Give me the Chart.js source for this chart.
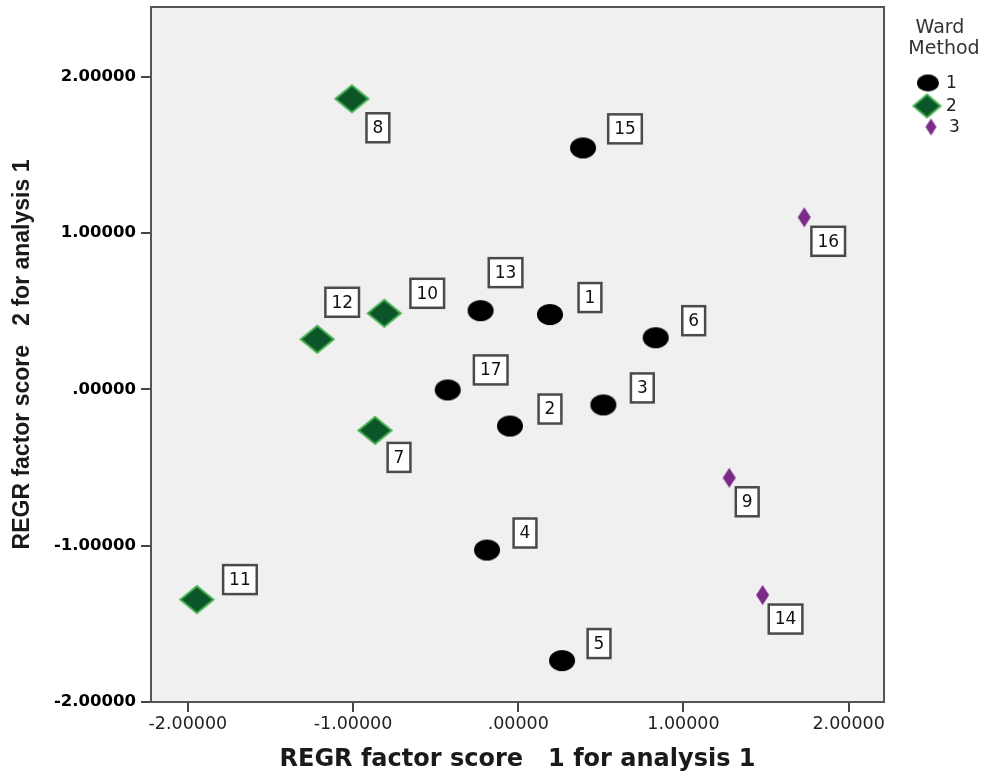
<!DOCTYPE html>
<html>
<head>
<meta charset="utf-8">
<title>Ward Method clusters</title>
<script src="https://cdn.jsdelivr.net/npm/chart.js@4/dist/chart.umd.min.js"></script>
<style>
  html, body { margin: 0; padding: 0; background: #fff; }
  #wrap { position: relative; width: 981px; height: 776px; }
</style>
</head>
<body>
<div id="wrap"><canvas id="scatter"></canvas></div>
<script>
// case numbers and factor scores per Ward cluster
const ward1Cases = [1, 2, 3, 4, 5, 6, 13, 15, 17];
const ward1X = [0.192, -0.050, 0.515, -0.189, 0.265, 0.832, -0.228, 0.392, -0.427];
const ward1Y = [0.478, -0.235, -0.100, -1.028, -1.735, 0.330, 0.503, 1.544, -0.004];

const ward2Cases = [7, 8, 10, 11, 12];
const ward2X = [-0.867, -1.007, -0.811, -1.945, -1.217];
const ward2Y = [-0.263, 1.858, 0.486, -1.345, 0.320];

const ward3Cases = [9, 14, 16];
const ward3X = [1.277, 1.479, 1.731];
const ward3Y = [-0.566, -1.316, 1.100];

const xTicks = [-2, -1, 0, 1, 2];
const yTicks = [-2, -1, 0, 1, 2];

const legendTitle = ['Ward', 'Method'];
const legendLabels = ['1', '2', '3'];

// where each case label box sits relative to its marker (px)
const LABEL_OFFSETS = {
  1: [40, -17], 2: [40, -17], 3: [39, -17], 4: [38, -17], 5: [37, -17],
  6: [38, -17], 7: [24, 27], 8: [26, 29], 9: [18, 24], 10: [43, -20],
  11: [43, -20], 12: [25, -37], 13: [25, -38], 14: [23, 24], 15: [42, -19],
  16: [24, 24], 17: [43, -20],
};

const FONT = "'DejaVu Sans', 'Liberation Sans', Arial, sans-serif";

function makeMarker(kind, w, h) {
  const pad = 3;
  const c = document.createElement('canvas');
  c.width = w + pad * 2;
  c.height = h + pad * 2;
  const ctx = c.getContext('2d');
  const cx = c.width / 2, cy = c.height / 2;
  ctx.beginPath();
  if (kind === 'ellipse') {
    ctx.ellipse(cx, cy, w / 2, h / 2, 0, 0, Math.PI * 2);
  } else {
    ctx.moveTo(cx, cy - h / 2);
    ctx.lineTo(cx + w / 2, cy);
    ctx.lineTo(cx, cy + h / 2);
    ctx.lineTo(cx - w / 2, cy);
    ctx.closePath();
  }
  return { c, ctx };
}

function blackDot(w, h) {
  const m = makeMarker('ellipse', w, h);
  m.ctx.fillStyle = '#000';
  m.ctx.fill();
  return m.c;
}

function greenDiamond(w, h) {
  const m = makeMarker('diamond', w, h);
  m.ctx.fillStyle = '#0c5529';
  m.ctx.fill();
  m.ctx.lineWidth = 2;
  m.ctx.strokeStyle = '#45b04f';
  m.ctx.stroke();
  return m.c;
}

function purpleDiamond(w, h) {
  const m = makeMarker('diamond', w, h);
  m.ctx.fillStyle = '#7b2a88';
  m.ctx.fill();
  return m.c;
}

const MARKERS = [blackDot(26, 21), greenDiamond(33, 27), purpleDiamond(13, 20)];
const LEGEND_MARKERS = [blackDot(22, 17), greenDiamond(27, 23), purpleDiamond(11, 17)];

function toPoints(cases, xs, ys) {
  return cases.map((id, i) => ({ x: xs[i], y: ys[i], id }));
}

function fmtTick(v) {
  return v.toFixed(5).replace(/^(-?)0\./, '$1.');
}

const frame = {
  id: 'frame',
  beforeDatasetsDraw(chart) {
    const { ctx, chartArea: a } = chart;
    ctx.save();
    ctx.fillStyle = '#f0f0f0';
    ctx.fillRect(a.left, a.top, a.right - a.left, a.bottom - a.top);
    ctx.lineWidth = 2;
    ctx.strokeStyle = '#555';
    ctx.strokeRect(a.left, a.top, a.right - a.left, a.bottom - a.top);
    ctx.restore();
  },
};

const caseLabels = {
  id: 'caseLabels',
  afterDatasetsDraw(chart) {
    const ctx = chart.ctx;
    ctx.save();
    ctx.font = `17px ${FONT}`;
    ctx.textAlign = 'center';
    ctx.textBaseline = 'middle';
    chart.data.datasets.forEach((ds, di) => {
      chart.getDatasetMeta(di).data.forEach((el, i) => {
        const id = ds.data[i].id;
        const [dx, dy] = LABEL_OFFSETS[id] || [30, -18];
        const text = String(id);
        const w = ctx.measureText(text).width + 12;
        const h = 29;
        const cx = el.x + dx, cy = el.y + dy;
        ctx.fillStyle = '#fff';
        ctx.fillRect(cx - w / 2, cy - h / 2, w, h);
        ctx.lineWidth = 2.5;
        ctx.strokeStyle = '#4a4a4a';
        ctx.strokeRect(cx - w / 2, cy - h / 2, w, h);
        ctx.fillStyle = '#111';
        ctx.fillText(text, cx, cy + 1);
      });
    });
    ctx.restore();
  },
};

const sideLegend = {
  id: 'sideLegend',
  afterDraw(chart) {
    const ctx = chart.ctx;
    ctx.save();
    ctx.fillStyle = '#333';
    ctx.textAlign = 'center';
    ctx.textBaseline = 'middle';
    ctx.font = `19px ${FONT}`;
    ctx.fillText(legendTitle[0], 940, 28);
    ctx.fillText(legendTitle[1], 944, 49);
    const rows = [[928, 83], [927, 106], [931, 127]];
    ctx.font = `17px ${FONT}`;
    ctx.textAlign = 'left';
    legendLabels.forEach((lab, i) => {
      const img = LEGEND_MARKERS[i];
      const [mx, my] = rows[i];
      ctx.drawImage(img, mx - img.width / 2, my - img.height / 2);
      ctx.fillStyle = '#222';
      ctx.fillText(lab, i === 2 ? 949 : 946, my + 1);
    });
    ctx.restore();
  },
};

function noEdgePadding(s) {
  s.paddingTop = 0;
  s.paddingBottom = 0;
  s.paddingLeft = 0;
  s.paddingRight = 0;
}

new Chart(document.getElementById('scatter'), {
  type: 'scatter',
  data: {
    datasets: [
      { label: '1', data: toPoints(ward1Cases, ward1X, ward1Y), pointStyle: MARKERS[0], pointRadius: 12 },
      { label: '2', data: toPoints(ward2Cases, ward2X, ward2Y), pointStyle: MARKERS[1], pointRadius: 14 },
      { label: '3', data: toPoints(ward3Cases, ward3X, ward3Y), pointStyle: MARKERS[2], pointRadius: 8 },
    ],
  },
  options: {
    responsive: true,
    maintainAspectRatio: false,
    animation: false,
    layout: { autoPadding: false, padding: { top: 7, right: 97, left: 0, bottom: 0 } },
    plugins: { legend: { display: false }, tooltip: { enabled: false } },
    scales: {
      x: {
        type: 'linear',
        min: -2.223,
        max: 2.214,
        afterBuildTicks: s => { s.ticks = xTicks.map(v => ({ value: v })); },
        afterFit: s => { s.height = 74; noEdgePadding(s); },
        ticks: {
          callback: fmtTick,
          color: '#222',
          font: { family: FONT, size: 17.5 },
          padding: 2,
          maxRotation: 0,
        },
        grid: { drawOnChartArea: false, drawTicks: true, tickLength: 10, color: '#444', lineWidth: 2 },
        border: { display: false },
        title: {
          display: true,
          text: 'REGR factor score   1 for analysis 1',
          color: '#1a1a1a',
          font: { family: FONT, size: 24, weight: 'bold' },
          padding: { top: 0, bottom: 2 },
        },
      },
      y: {
        type: 'linear',
        min: -2.0,
        max: 2.445,
        afterBuildTicks: s => { s.ticks = yTicks.map(v => ({ value: v })); },
        afterFit: s => { s.width = 151; noEdgePadding(s); },
        ticks: {
          callback: fmtTick,
          color: '#000',
          font: { family: FONT, size: 16.5, weight: 'bold' },
          padding: 5,
        },
        grid: { drawOnChartArea: false, drawTicks: true, tickLength: 10, color: '#444', lineWidth: 2 },
        border: { display: false },
        title: {
          display: true,
          text: 'REGR factor score   2 for analysis 1',
          color: '#1a1a1a',
          font: { family: "'Liberation Sans', Arial, sans-serif", size: 23, weight: 'bold' },
          padding: { top: 9, bottom: 0 },
        },
      },
    },
  },
  plugins: [frame, caseLabels, sideLegend],
});
</script>
</body>
</html>
